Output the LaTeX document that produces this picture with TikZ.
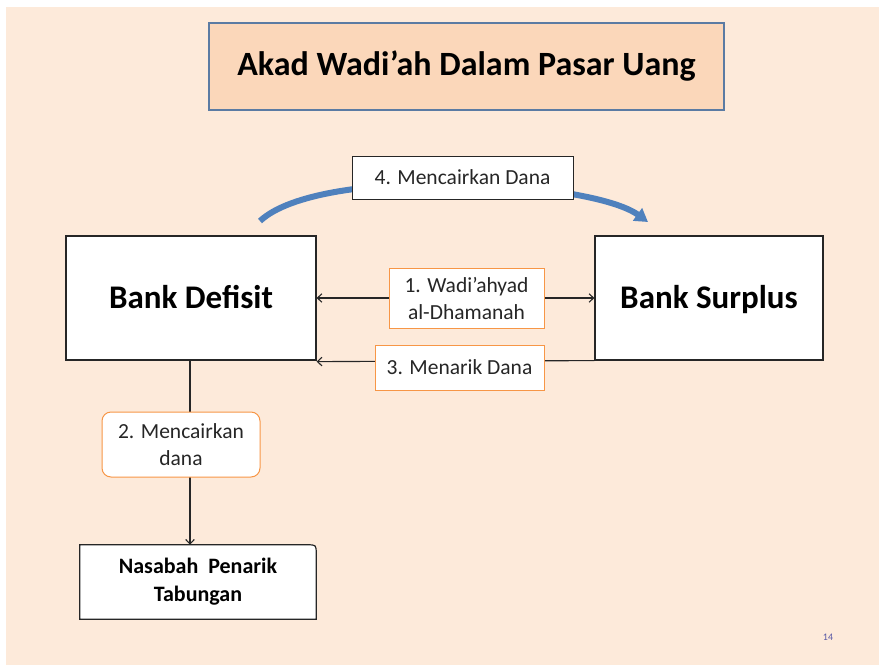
\documentclass[tikz,border=0pt]{standalone}
\usepackage{fontspec}
\setmainfont{Carlito}
\usepackage{tikz}
\usetikzlibrary{arrows}
\usetikzlibrary{arrows.meta}
\usetikzlibrary{backgrounds}

\definecolor{slidebg}{HTML}{FDEADA}
\definecolor{titlefill}{HTML}{FBD7BA}
\definecolor{titleline}{HTML}{5B7BA3}
\definecolor{labelline}{HTML}{F79646}
\definecolor{curvearrow}{HTML}{4F81BD}
\definecolor{inkgray}{HTML}{262626}

\begin{document}
\begin{tikzpicture}[x=1pt,y=-1pt]
        \tikzset{bank/.style = {shape=rectangle,draw=inkgray,fill=white,line width=1.2pt,minimum width=#1,minimum height=124pt,font=\bfseries\fontsize{33}{38}\selectfont,align=center,text height=21pt,text depth=0pt}}
        \tikzset{tag/.style = {shape=rectangle,draw=labelline,fill=white,line width=1pt,align=center,text=inkgray,inner sep=1pt,font=\fontsize{21.5}{27}\selectfont}}
        \tikzset{edge/.style = {draw=inkgray,line width=1.1pt,-{Straight Barb[length=1.6mm,width=3mm]}}}
        \useasboundingbox (0,0) rectangle (879,665);
        \node[shape=rectangle,draw=titleline,fill=titlefill,line width=1.4pt,minimum width=515pt,minimum height=87pt,font=\bfseries\fontsize{34}{40}\selectfont] (title) at (466.5,66.5) {Akad Wadi’ah Dalam Pasar Uang};
        \node[bank=250pt] (defisit) at (191,298) {Bank Defisit};
        \node[bank=228pt] (surplus) at (709,298) {Bank Surplus};
        \node[shape=rectangle,draw=none,minimum width=236pt,minimum height=74pt,align=center,font=\bfseries\fontsize{22}{28}\selectfont] (nasabah) at (198,582) {Nasabah\ \ Penarik\\Tabungan};
        \begin{pgfonlayer}{background}
        \fill[slidebg] (6,7) rectangle (879,665);
        \filldraw[fill=white,draw=inkgray,line width=1.2pt] (nasabah.south west) -- (nasabah.north west) -- ([xshift=-9pt]nasabah.north east) .. controls (nasabah.north east) .. ([yshift=-9pt]nasabah.north east) -- (nasabah.south east) -- cycle;
        \end{pgfonlayer}
        \draw[edge,{Straight Barb[length=1.6mm,width=3mm]}-{Straight Barb[length=1.6mm,width=3mm]}] (defisit) -- (surplus);
        \draw[edge] (surplus.south west) -- ([yshift=-1pt]defisit.south east);
        \draw[edge] ([xshift=-1pt]defisit.south) -- ([xshift=-1pt]defisit.south |- nasabah.north);
        \draw[curvearrow,line width=6pt,-{Triangle[length=13pt,width=15pt]}] (260,221) .. controls (320,165) and (590,180) .. (648,222);
        \node[tag,minimum width=155pt,minimum height=60pt] (wadiah) at (466.5,298) {1. Wadi’ahyad\\al-Dhamanah};
        \node[tag,minimum width=169pt,minimum height=45pt] (menarik) at (459.5,367.5) {3. Menarik Dana};
        \node[tag,rounded corners=9pt,minimum width=158pt,minimum height=65pt] (cair) at (181,444.5) {2. Mencairkan\\dana};
        \node[tag,draw=inkgray,minimum width=221pt,minimum height=43pt] (cairdana) at (462.5,177.5) {4. Mencairkan Dana};
        \node[text=gray!70!blue,font=\fontsize{10}{12}\selectfont] (page) at (828,637) {14};
\end{tikzpicture}
\end{document}
